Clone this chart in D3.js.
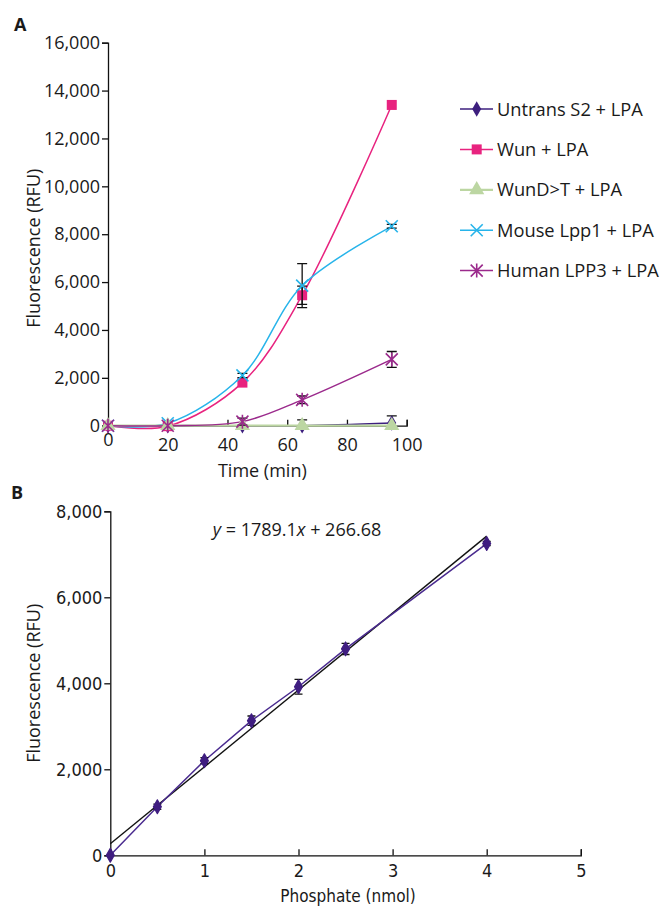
<!DOCTYPE html>
<html>
<head>
<meta charset="utf-8">
<script src="https://cdn.jsdelivr.net/npm/d3@7"></script>
<style>
  body { margin: 0; background: #fff; }
  svg { display: block; }
  text { font-family: "Open Sans", sans-serif; fill: #1a1a1a; }
  text.cond { font-family: "DejaVu Sans", sans-serif; font-stretch: condensed; }
</style>
</head>
<body>
<div id="app"></div>
<script>
// ---- panel A data ----
const timeMin = [0, 20, 45, 65, 95]
const seriesNames = ['Untrans S2 + LPA', 'Wun + LPA', 'WunD>T + LPA', 'Mouse Lpp1 + LPA', 'Human LPP3 + LPA']
const untransS2 = [0, 0, 0, 0, 110]
const untransErr = [0, 0, 0, 240, 300]
const wun = [0, -20, 1800, 5450, 13400]
const wunErr = [0, 0, 0, 380, 0]
const wunDT = [0, 0, 0, 0, 0]
const wunDTErr = [0, 0, 0, 0, 0]
const mouseLpp1 = [0, 100, 2100, 5850, 8330]
const mouseErr = [0, 0, 90, 920, 80]
const humanLpp3 = [0, 0, 170, 1080, 2770]
const humanErr = [0, 0, 150, 160, 330]
const xTicksA = [0, 20, 40, 60, 80, 100]
const yTicksA = [0, 2000, 4000, 6000, 8000, 10000, 12000, 14000, 16000]

// ---- panel B data ----
const phosphateNmol = [0, 0.5, 1, 1.5, 2, 2.5, 4]
const fluorB = [0, 1130, 2200, 3130, 3920, 4800, 7250]
const fluorBErr = [0, 60, 70, 110, 170, 130, 50]
const fitSlope = 1789.1
const fitIntercept = 266.68
const xTicksB = [0, 1, 2, 3, 4, 5]
const yTicksB = [0, 2000, 4000, 6000, 8000]

const W = 663, H = 907
const svg = d3.select('#app').append('svg').attr('width', W).attr('height', H)
const fmt = d3.format(',')

function styleAxis(ax, size, cls) {
  ax.select('.domain').attr('stroke', '#111').attr('stroke-width', 1.3)
  ax.selectAll('.tick line').attr('stroke', '#111').attr('stroke-width', 1.3)
  ax.selectAll('.tick text').attr('class', cls || null).style('font-size', size + 'px').attr('fill', '#1a1a1a')
}

// ================= panel A =================
const xA = d3.scaleLinear().domain([0, 100]).range([108, 406.7])
const yA = d3.scaleLinear().domain([0, 16000]).range([425.7, 42.7])

svg.append('text').text('A').attr('x', 14).attr('y', 31)
  .style('font-weight', 'bold').style('font-size', '18px')

const axA_y = svg.append('g').attr('transform', `translate(${xA(0)},0)`)
  .call(d3.axisLeft(yA).tickValues(yTicksA).tickFormat(fmt).tickSize(6).tickPadding(2))
const axA_x = svg.append('g').attr('transform', `translate(0,${yA(0)})`)
  .call(d3.axisBottom(xA).tickValues(xTicksA).tickSize(-6).tickPadding(13))
styleAxis(axA_y, 18)
styleAxis(axA_x, 18)
axA_x.selectAll('.tick').filter(d => d === 0).select('line').remove()
axA_x.selectAll('.tick').filter(d => d === 0).select('text').attr('dy', '0.4em')

svg.append('text').text('Fluorescence (RFU)')
  .attr('transform', `translate(40,${(yA(0) + yA(16000)) / 2 + 14}) rotate(-90)`)
  .attr('text-anchor', 'middle').style('font-size', '18px')
svg.append('text').text('Time (min)')
  .attr('x', (xA(0) + xA(100)) / 2 + 5).attr('y', 477)
  .attr('text-anchor', 'middle').style('font-size', '18px')

const series = [
  {name: seriesNames[0], vals: untransS2, err: untransErr, color: '#3d1f7e', mark: 'diamond'},
  {name: seriesNames[1], vals: wun, err: wunErr, color: '#e8237f', mark: 'square'},
  {name: seriesNames[3], vals: mouseLpp1, err: mouseErr, color: '#27b4ea', mark: 'x'},
  {name: seriesNames[2], vals: wunDT, err: wunDTErr, color: '#bcd6a2', mark: 'triangle'},
  {name: seriesNames[4], vals: humanLpp3, err: humanErr, color: '#9b2a8c', mark: 'star'}
]

function drawMark(g, kind, color, x, y) {
  if (kind === 'diamond') {
    g.append('path').attr('d', d3.symbol(d3.symbolDiamond, 70)()).attr('transform', `translate(${x},${y})`).attr('fill', color)
  } else if (kind === 'square') {
    g.append('rect').attr('x', x - 5).attr('y', y - 5).attr('width', 10).attr('height', 10).attr('fill', color)
  } else if (kind === 'triangle') {
    g.append('path').attr('d', d3.symbol(d3.symbolTriangle, 100)()).attr('transform', `translate(${x},${y})`).attr('fill', color)
  } else {
    const r = 6
    const p = `M${x - r},${y - r}L${x + r},${y + r}M${x - r},${y + r}L${x + r},${y - r}` + (kind === 'star' ? `M${x},${y - r - 1}L${x},${y + r + 1}` : '')
    g.append('path').attr('d', p).attr('stroke', color).attr('stroke-width', 1.6).attr('fill', 'none')
  }
}

// error bar; the lower end is cut at the zero line like in the original
function errBar(g, x, yTop, yBot, yZero, cap) {
  const clipped = yBot > yZero
  const yb = clipped ? yZero : yBot
  let d = `M${x},${yTop}L${x},${yb}M${x - cap},${yTop}L${x + cap},${yTop}`
  if (!clipped) d += `M${x - cap},${yb}L${x + cap},${yb}`
  g.append('path').attr('d', d).attr('stroke', '#111').attr('stroke-width', 1.3).attr('fill', 'none')
}

const lineA = d3.line().x((d, i) => xA(timeMin[i])).y(d => yA(d)).curve(d3.curveCatmullRom.alpha(0.5))
const gA = svg.append('g')
series.forEach(s => {
  gA.append('path').attr('d', lineA(s.vals)).attr('fill', 'none').attr('stroke', s.color)
    .attr('stroke-width', s.mark === 'triangle' ? 2.2 : 1.5)
})
series.forEach(s => {
  s.vals.forEach((v, i) => {
    if (s.err[i] > 0) errBar(gA, xA(timeMin[i]), yA(v + s.err[i]), yA(v - s.err[i]), yA(0), 5)
  })
  s.vals.forEach((v, i) => drawMark(gA, s.mark, s.color, xA(timeMin[i]), yA(v)))
})

// legend
const leg = svg.append('g')
seriesNames.forEach((name, k) => {
  const s = series.find(d => d.name === name)
  const y = 109 + k * 40.4
  leg.append('line').attr('x1', 460).attr('x2', 493).attr('y1', y).attr('y2', y).attr('stroke', s.color)
    .attr('stroke-width', s.mark === 'triangle' ? 2.2 : 1.5)
  drawMark(leg, s.mark, s.color, 476.7, y)
  leg.append('text').text(name).attr('x', 497).attr('y', y + 6.5).style('font-size', '18.3px')
})

// ================= panel B =================
const xB = d3.scaleLinear().domain([0, 5]).range([110.3, 580.8])
const yB = d3.scaleLinear().domain([0, 8000]).range([855.3, 511.3])

svg.append('text').text('B').attr('x', 11).attr('y', 499)
  .style('font-weight', 'bold').style('font-size', '18px')

const axB_y = svg.append('g').attr('transform', `translate(${xB(0)},0)`)
  .call(d3.axisLeft(yB).tickValues(yTicksB).tickFormat(fmt).tickSize(6).tickPadding(2))
const axB_x = svg.append('g').attr('transform', `translate(0,${yB(0)})`)
  .call(d3.axisBottom(xB).tickValues(xTicksB).tickFormat(d3.format('d')).tickSize(-6).tickPadding(9))
styleAxis(axB_y, 18, 'cond')
styleAxis(axB_x, 18, 'cond')
axB_x.selectAll('.tick').filter(d => d === 0).select('line').remove()

svg.append('text').text('Fluorescence (RFU)')
  .attr('transform', `translate(40,${(yB(0) + yB(8000)) / 2}) rotate(-90)`)
  .attr('text-anchor', 'middle').style('font-size', '18px')
svg.append('text').text('Phosphate (nmol)').attr('class', 'cond')
  .attr('x', 348).attr('y', 902)
  .attr('text-anchor', 'middle').style('font-size', '17px')

const eq = svg.append('text').attr('x', 297).attr('y', 536).attr('text-anchor', 'middle').style('font-size', '18px')
eq.append('tspan').text('y').style('font-style', 'italic')
eq.append('tspan').text(` = ${fitSlope}`)
eq.append('tspan').text('x').style('font-style', 'italic')
eq.append('tspan').text(` + ${fitIntercept}`)

const gB = svg.append('g')
gB.append('line')
  .attr('x1', xB(0)).attr('y1', yB(fitIntercept))
  .attr('x2', xB(4)).attr('y2', yB(fitSlope * 4 + fitIntercept))
  .attr('stroke', '#111').attr('stroke-width', 1.4)
const lineB = d3.line().x((d, i) => xB(phosphateNmol[i])).y(d => yB(d))
gB.append('path').attr('d', lineB(fluorB)).attr('fill', 'none').attr('stroke', '#4a2b8f').attr('stroke-width', 1.5)
fluorB.forEach((v, i) => {
  if (fluorBErr[i] > 0) errBar(gB, xB(phosphateNmol[i]), yB(v + fluorBErr[i]), yB(v - fluorBErr[i]), yB(0), 4)
  gB.append('path').attr('d', d3.symbol(d3.symbolDiamond, 55)())
    .attr('transform', `translate(${xB(phosphateNmol[i])},${yB(v)})`)
    .attr('fill', '#3f1d80').attr('stroke', '#3f1d80').attr('stroke-width', 1.2).attr('stroke-linejoin', 'round')
})
</script>
</body>
</html>
